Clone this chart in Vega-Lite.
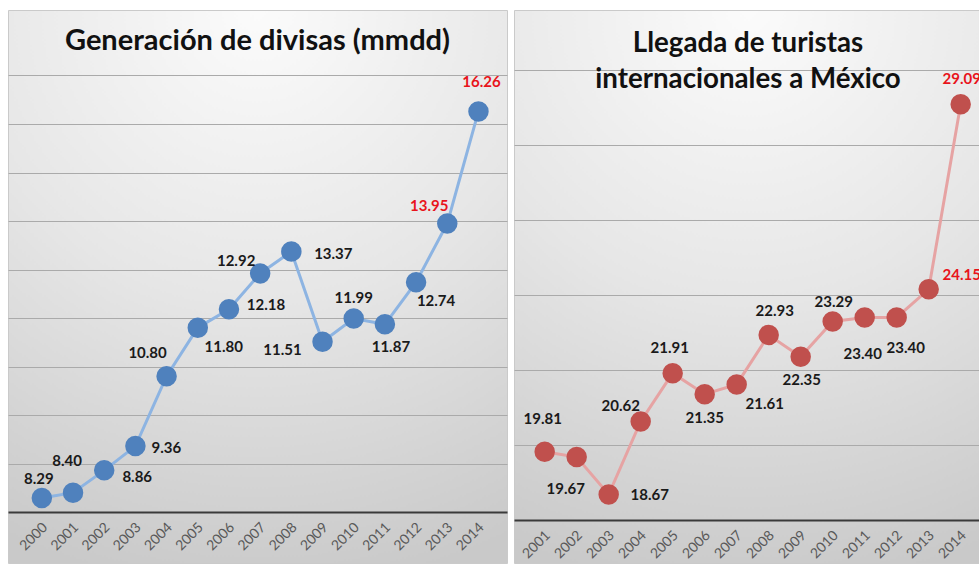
{
  "$schema": "https://vega.github.io/schema/vega-lite/v6.json",
  "padding": {"left": 7, "top": 9, "right": 0, "bottom": 3},
  "spacing": 5,
  "background": "white",
  "datasets": {
    "divisas": [
      {"year": 2000, "value": 8.29}, {"year": 2001, "value": 8.40}, {"year": 2002, "value": 8.86},
      {"year": 2003, "value": 9.36}, {"year": 2004, "value": 10.80}, {"year": 2005, "value": 11.80},
      {"year": 2006, "value": 12.18}, {"year": 2007, "value": 12.92}, {"year": 2008, "value": 13.37},
      {"year": 2009, "value": 11.51}, {"year": 2010, "value": 11.99}, {"year": 2011, "value": 11.87},
      {"year": 2012, "value": 12.74}, {"year": 2013, "value": 13.95}, {"year": 2014, "value": 16.26}
    ],
    "turistas": [
      {"year": 2001, "value": 19.81}, {"year": 2002, "value": 19.67}, {"year": 2003, "value": 18.67},
      {"year": 2004, "value": 20.62}, {"year": 2005, "value": 21.91}, {"year": 2006, "value": 21.35},
      {"year": 2007, "value": 21.61}, {"year": 2008, "value": 22.93}, {"year": 2009, "value": 22.35},
      {"year": 2010, "value": 23.29}, {"year": 2011, "value": 23.40}, {"year": 2012, "value": 23.40},
      {"year": 2013, "value": 24.15}, {"year": 2014, "value": 29.09}
    ]
  },
  "hconcat": [
    {
      "width": 499,
      "height": 553,
      "title": {"text": "Generación de divisas (mmdd)", "frame": "group", "offset": -69, "baseline": "alphabetic", "fontSize": 29},
      "data": {"name": "divisas"},
      "encoding": {
        "x": {"field": "year", "type": "ordinal", "title": null,
              "scale": {"type": "point", "padding": 1.143, "align": 0.5425},
              "axis": {"offset": -51}},
        "y": {"field": "value", "type": "quantitative", "title": null,
              "scale": {"domain": [6.95, 18.35], "nice": false, "zero": false},
              "axis": {"values": [9, 10, 11, 12, 13, 14, 15, 16, 17], "grid": true, "labels": false, "ticks": false, "domain": false}}
      },
      "layer": [
        {"mark": {"type": "line", "color": "#8db4e2", "strokeWidth": 3}},
        {"mark": {"type": "point", "filled": true, "opacity": 1, "size": 420, "color": "#4f81bd"}},
        {"mark": {"type": "text", "fontWeight": "bold", "fontSize": 15,
                  "dx": {"expr": "[-3,-6,33,31,-19,26,37,-24,42,-40,0,6,20,-18,3][datum.year-2000]"},
                  "dy": {"expr": "[-19,-32,7,2,-23,19,-4,-12,2,8,-21,23,19,-17,-29][datum.year-2000]"}},
         "encoding": {
           "text": {"field": "value", "type": "quantitative", "format": ".2f"},
           "color": {"condition": {"test": "datum.year >= 2013", "value": "#e8141b"}, "value": "#1a1a1a"}
         }}
      ]
    },
    {
      "width": 468,
      "height": 553,
      "title": {"text": ["Llegada de turistas", "internacionales a México"], "frame": "group", "offset": -106, "baseline": "alphabetic", "lineHeight": 36, "fontSize": 27.7},
      "data": {"name": "turistas"},
      "encoding": {
        "x": {"field": "year", "type": "ordinal", "title": null,
              "scale": {"type": "point", "padding": 0.8125, "align": 0.59},
              "axis": {"offset": -43}},
        "y": {"field": "value", "type": "quantitative", "title": null,
              "scale": {"domain": [16.84, 31.61], "nice": false, "zero": false},
              "axis": {"values": [20, 22, 24, 26, 28, 30], "grid": true, "labels": false, "ticks": false, "domain": false}}
      },
      "layer": [
        {"mark": {"type": "line", "color": "#e6a3a3", "strokeWidth": 3}},
        {"mark": {"type": "point", "filled": true, "opacity": 1, "size": 420, "color": "#c0504d"}},
        {"mark": {"type": "text", "fontWeight": "bold", "fontSize": 15, "clip": true,
                  "dx": {"expr": "[-2,-11,41,-20,-3,0,28,6,1,1,-2,9,33,1][datum.year-2001]"},
                  "dy": {"expr": "[-33,32,1,-15,-25,24,20,-24,23,-20,37,31,-14,-25][datum.year-2001]"}},
         "encoding": {
           "text": {"field": "value", "type": "quantitative", "format": ".2f"},
           "color": {"condition": {"test": "datum.year >= 2013", "value": "#e8141b"}, "value": "#1a1a1a"}
         }}
      ]
    }
  ],
  "config": {
    "font": "Lato",
    "view": {
      "fill": {"gradient": "radial", "x1": 0.5, "y1": 0.0, "r1": 0, "x2": 0.5, "y2": 0.0, "r2": 1.05,
               "stops": [{"offset": 0, "color": "#fbfbfb"}, {"offset": 0.5, "color": "#e6e6e6"}, {"offset": 1, "color": "#c9c9c9"}]},
      "stroke": "#cacaca",
      "strokeWidth": 1
    },
    "title": {"font": "Lato", "fontWeight": "bold", "color": "#111111", "anchor": "middle"},
    "axisX": {
      "labelAngle": -45, "labelAlign": "right", "labelBaseline": "middle", "labelPadding": 13, "labelOffset": 3,
      "labelFont": "Lato", "labelFontSize": 14, "labelColor": "#595959",
      "ticks": false, "grid": false, "domainColor": "#3a3a3a", "domainWidth": 2
    },
    "axisY": {"gridColor": "#aaaaaa", "gridWidth": 1}
  }
}
